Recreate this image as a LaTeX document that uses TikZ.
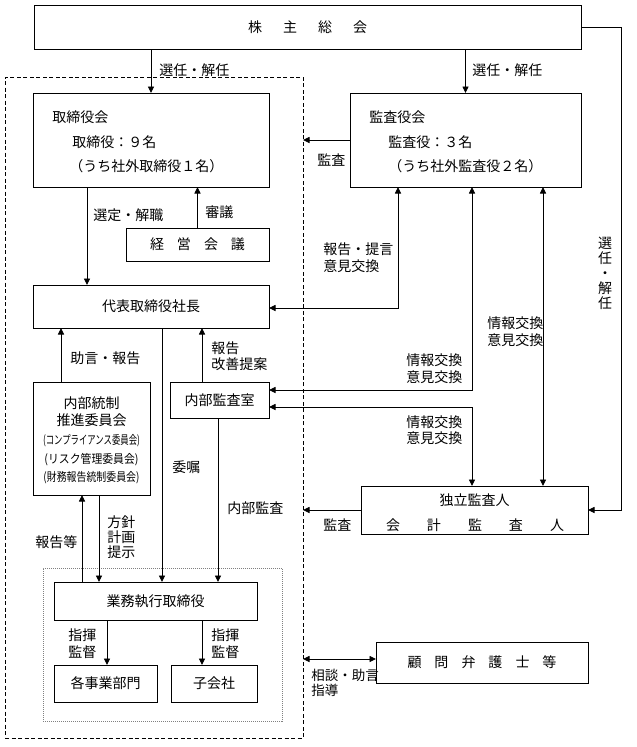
\documentclass[tikz,border=0pt]{standalone}
\usepackage{fontspec}
\setmainfont{Noto Sans CJK JP}
\usetikzlibrary{arrows.meta}
\begin{document}
\begin{tikzpicture}[x=1pt,y=-1pt, font=\fontsize{14}{16.5}\selectfont, line width=0.9pt,
  box/.style={draw, line width=0.9pt, inner sep=0pt, outer sep=0pt},
  dashframe/.style={draw, dash pattern=on 4pt off 2.5pt, line width=0.8pt, inner sep=0pt, outer sep=0pt},
  dotframe/.style={draw, gray, dash pattern=on 1pt off 1pt, line width=0.7pt, inner sep=0pt, outer sep=0pt},
  lab/.style={inner sep=0pt, anchor=west, align=left},
  txt/.style={inner sep=0pt},
  small/.style={inner sep=0pt, font=\fontsize{12}{14}\selectfont},
  arr/.style={-{Triangle[length=6.5pt,width=6pt]}},
  darr/.style={{Triangle[length=6.5pt,width=6pt]}-{Triangle[length=6.5pt,width=6pt]}}
  ]
\fill[white] (0,0) rectangle (637,747);
\useasboundingbox (0,0) rectangle (637,747);

% frames
\node[dashframe, minimum width=298pt, minimum height=661pt] (frame) at (154,407.5) {};
\node[dotframe, minimum width=239pt, minimum height=153pt] (grp) at (162.5,644.5) {};

% boxes
\node[box, minimum width=547pt, minimum height=44pt] (gm) at (307.5,27) {株\hspace{21pt}主\hspace{21pt}総\hspace{21pt}会};
\node[box, minimum width=236pt, minimum height=94pt] (tb) at (151,140) {};
\node[lab] (tbt1) at (52,117) {取締役会};
\node[lab] (tbt2) at (72,142) {取締役：９名};
\node[lab] (tbt3) at (69,166) {（うち社外取締役１名）};
\node[box, minimum width=231pt, minimum height=94pt] (ka) at (465.5,140) {};
\node[lab] (kat1) at (369,117) {監査役会};
\node[lab] (kat2) at (388,142) {監査役：３名};
\node[lab] (kat3) at (388,166) {（うち社外監査役２名）};
\node[box, minimum width=143pt, minimum height=33pt] (keiei) at (197.5,244.5) {経\hspace{13pt}営\hspace{13pt}会\hspace{13pt}議};
\node[box, minimum width=236pt, minimum height=43pt] (ceo) at (151,306.5) {代表取締役社長};
\node[box, minimum width=117pt, minimum height=113pt] (naibu) at (91.5,438.5) {};
\node[txt] (nb1) at (91.5,403) {内部統制};
\node[txt] (nb2) at (91.5,420.5) {推進委員会};
\node[small] (nb3) at (91.5,441) {\resizebox{97pt}{\height}{(コンプライアンス委員会)}};
\node[small] (nb4) at (91.5,459.5) {\resizebox{94pt}{\height}{(リスク管理委員会)}};
\node[small] (nb5) at (91.5,478) {\resizebox{96pt}{\height}{(財務報告統制委員会)}};
\node[box, minimum width=99pt, minimum height=36pt] (audit) at (219.5,400) {内部監査室};
\node[box, minimum width=227pt, minimum height=48pt] (ind) at (474.5,510) {};
\node[txt] (ind1) at (474.5,500) {独立監査人};
\node[txt] (ind2) at (475,525) {会\hspace{27pt}計\hspace{27pt}監\hspace{27pt}査\hspace{27pt}人};
\node[box, minimum width=203pt, minimum height=38pt] (exec) at (155.5,601) {業務執行取締役};
\node[box, minimum width=103pt, minimum height=37pt] (bu) at (105.5,683.5) {各事業部門};
\node[box, minimum width=86pt, minimum height=37pt] (sub) at (214,683.5) {子会社};
\node[box, minimum width=212pt, minimum height=41pt] (lawyer) at (482,662.5) {顧\hspace{13pt}問\hspace{13pt}弁\hspace{13pt}護\hspace{13pt}士\hspace{13pt}等};

% labels
\node[lab] (l1) at (159,70) {選任・解任};
\node[lab] (l2) at (472,70) {選任・解任};
\node[lab] (l3) at (317,160) {監査};
\node[lab] (l4) at (93,215) {選定・解職};
\node[lab] (l5) at (205,212) {審議};
\node[lab] (l6) at (323,257.5) {報告・提言\\意見交換};
\node[txt, align=center, font=\fontsize{14}{15}\selectfont] (l7) at (605,273) {選\\任\\・\\解\\任};
\node[lab] (l8) at (487,331.5) {情報交換\\意見交換};
\node[lab] (l9) at (406,368.5) {情報交換\\意見交換};
\node[lab] (l10) at (406,430) {情報交換\\意見交換};
\node[lab] (l11) at (70,358) {助言・報告};
\node[lab] (l12) at (211,356) {報告\\改善提案};
\node[lab] (l13) at (172,467) {委嘱};
\node[lab] (l14) at (227,508) {内部監査};
\node[lab] (l15) at (323,525) {監査};
\node[lab] (l16) at (35,542) {報告等};
\node[lab, font=\fontsize{14}{15}\selectfont] (l17) at (107,537) {方針\\計画\\提示};
\node[lab] (l18) at (68,643.5) {指揮\\監督};
\node[lab] (l19) at (211,643.5) {指揮\\監督};
\node[lab, font=\fontsize{13.5}{15}\selectfont] (l20) at (311,682.5) {相談・助言\\指導};

% x guides
\coordinate (x61) at (61,0);
\coordinate (x82) at (82,0);
\coordinate (x87) at (87,0);
\coordinate (x99) at (99,0);
\coordinate (x107) at (107,0);
\coordinate (x162) at (162,0);
\coordinate (x202) at (202,0);
\coordinate (x218) at (218,0);
\coordinate (x398) at (398,0);
\coordinate (x472) at (472,0);
\coordinate (x543) at (543,0);
\coordinate (x621) at (621,0);
\coordinate (y308) at (0,308);
\coordinate (y390) at (0,390);
\coordinate (y407) at (0,407);
\coordinate (y660) at (0,659);

% connectors
\draw[arr] (gm.south -| tb.north) -- (tb.north);
\draw[arr] (gm.south -| ka.north) -- (ka.north);
\draw[arr] (gm.east) -| (x621 |- ind.east) -- (ind.east);
\draw[arr] (ka.west) -- (ka.west -| frame.east);
\draw[arr] (tb.south -| x87) -- (ceo.north -| x87);
\draw[arr] (keiei.north) -- (keiei.north |- tb.south);
\draw[darr] (ceo.east |- y308) -| (x398 |- ka.south);
\draw[darr] (audit.east |- y390) -| (x472 |- ka.south);
\draw[darr] (audit.east |- y407) -| (x472 |- ind.north);
\draw[darr] (x543 |- ka.south) -- (x543 |- ind.north);
\draw[arr] (ind.west) -- (ind.west -| frame.east);
\draw[arr] (naibu.north -| x61) -- (ceo.south -| x61);
\draw[arr] (audit.north -| x202) -- (ceo.south -| x202);
\draw[arr] (ceo.south -| x162) -- (exec.north -| x162);
\draw[arr] (audit.south -| x218) -- (exec.north -| x218);
\draw[arr] (exec.north -| x82) -- (naibu.south -| x82);
\draw[arr] (naibu.south -| x99) -- (exec.north -| x99);
\draw[arr] (exec.south -| x107) -- (bu.north -| x107);
\draw[arr] (exec.south -| x202) -- (sub.north -| x202);
\draw[darr] (lawyer.west |- y660) -- (frame.east |- y660);
\end{tikzpicture}
\end{document}
